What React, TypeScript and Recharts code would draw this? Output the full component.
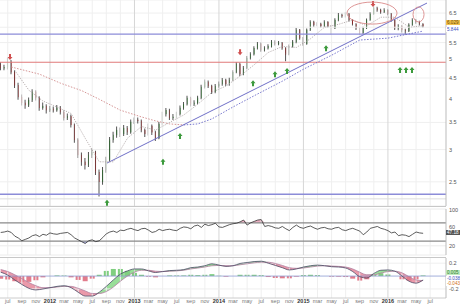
import React from "react";
import {
  ComposedChart,
  Bar,
  Line,
  Area,
  Scatter,
  XAxis,
  YAxis,
  CartesianGrid,
  ReferenceLine,
  ReferenceDot,
  Cell,
} from "recharts";

// time axis: months since jan 2011, candles every half month from t = 5
const candleStart = 5;
const candleStep = 0.5;
const firstOpen = 4.85;
const xDomain = [4.9, 68.25];
const xTicks = [6, 8, 10, 12, 14, 16, 18, 20, 22, 24, 26, 28, 30, 32, 34, 36, 38, 40, 42, 44, 46, 48, 50, 52, 54, 56, 58, 60, 62, 64, 66];
const monthNames = ["jan", "feb", "mar", "apr", "may", "jun", "jul", "aug", "sep", "oct", "nov", "dec"];
// the "6" label sits under the last-price tags
const priceTicks = [2.5, 3, 3.5, 4, 4.5, 5, 5.5, 6.5];

const closes = [
  4.76, 4.78, 4.93, 4.65, 4.32, 4.04, 3.91, 3.86, 3.97, 4.16,
  4.02, 3.8, 3.84, 3.75, 3.78, 3.75, 3.8, 3.71, 3.59, 3.62,
  3.45, 3.17, 2.91, 2.8, 2.75, 2.91, 2.96, 2.64, 2.5, 2.67,
  2.83, 3.17, 3.26, 3.35, 3.28, 3.39, 3.31, 3.51, 3.55, 3.53,
  3.35, 3.28, 3.43, 3.31, 3.2, 3.47, 3.67, 3.75, 3.59, 3.61,
  3.67, 3.8, 3.88, 4.02, 3.88, 3.91, 4.02, 4.28, 4.4, 4.3,
  4.16, 4.3, 4.35, 4.45, 4.35, 4.45, 4.65, 4.87, 4.6, 4.76,
  5.04, 5.15, 5.33, 5.46, 5.27, 5.33, 5.39, 5.52, 5.46, 5.49,
  5.33, 5.15, 5.39, 5.52, 5.91, 5.64, 5.46, 5.91, 6.18, 6.08,
  6.11, 6.04, 6.18, 6.04, 5.97, 6.25, 6.43, 6.39, 6.47, 6.25,
  6.11, 5.97, 5.81, 5.97, 6.25, 6.47, 6.69, 6.61, 6.54, 6.61,
  6.47, 6.25, 5.97, 6.04, 5.91, 5.87, 6.08, 6.25, 6.18, 6.11,
  6.03,
];
const highs = [
  4.92, 4.85, 5.05, 4.98, 4.7, 4.38, 4.1, 3.98, 4.03, 4.22,
  4.2, 4.06, 3.92, 3.88, 3.84, 3.83, 3.86, 3.84, 3.75, 3.68,
  3.66, 3.48, 3.2, 2.95, 2.86, 2.96, 3.02, 2.98, 2.68, 2.72,
  2.88, 3.22, 3.32, 3.42, 3.4, 3.45, 3.43, 3.56, 3.6, 3.6,
  3.56, 3.38, 3.48, 3.46, 3.34, 3.51, 3.72, 3.8, 3.78, 3.67,
  3.72, 3.85, 3.93, 4.07, 4.05, 3.97, 4.07, 4.33, 4.46, 4.44,
  4.33, 4.35, 4.41, 4.5, 4.48, 4.51, 4.7, 4.93, 4.91, 4.82,
  5.1, 5.21, 5.39, 5.52, 5.5, 5.39, 5.45, 5.58, 5.57, 5.55,
  5.52, 5.36, 5.44, 5.58, 5.97, 5.94, 5.68, 5.96, 6.24, 6.22,
  6.17, 6.15, 6.24, 6.21, 6.08, 6.31, 6.5, 6.48, 6.53, 6.5,
  6.28, 6.14, 6.0, 6.02, 6.3, 6.53, 6.75, 6.74, 6.66, 6.68,
  6.64, 6.5, 6.28, 6.1, 6.07, 5.95, 6.14, 6.31, 6.29, 6.22,
  6.14,
];
const lows = [
  4.7, 4.7, 4.72, 4.6, 4.25, 3.98, 3.85, 3.78, 3.82, 3.93,
  3.96, 3.74, 3.76, 3.68, 3.71, 3.7, 3.72, 3.66, 3.54, 3.55,
  3.4, 3.12, 2.86, 2.74, 2.68, 2.72, 2.86, 2.6, 2.3, 2.46,
  2.63, 2.8, 3.12, 3.21, 3.22, 3.24, 3.26, 3.28, 3.47, 3.48,
  3.31, 3.22, 3.25, 3.26, 3.15, 3.18, 3.44, 3.62, 3.55, 3.55,
  3.58, 3.64, 3.76, 3.85, 3.83, 3.84, 3.88, 3.99, 4.24, 4.25,
  4.11, 4.13, 4.26, 4.31, 4.3, 4.31, 4.42, 4.62, 4.55, 4.57,
  4.73, 5.0, 5.11, 5.29, 5.22, 5.23, 5.29, 5.35, 5.41, 5.42,
  5.28, 4.95, 5.12, 5.35, 5.48, 5.59, 5.4, 5.43, 5.87, 6.02,
  6.03, 5.98, 6.0, 5.98, 5.75, 5.94, 6.21, 6.33, 6.34, 6.2,
  6.06, 5.91, 5.74, 5.77, 5.94, 6.22, 6.44, 6.55, 6.48, 6.5,
  6.42, 6.19, 5.91, 5.9, 5.82, 5.75, 5.84, 6.05, 6.12, 6.06,
  5.98,
];

// moving averages, read at a few candle indexes
const slowDownIdx = [3, 11, 17, 23, 28, 34, 40, 44, 48, 52];
const slowDown = [4.79, 4.6, 4.37, 4.19, 3.99, 3.75, 3.61, 3.53, 3.47, 3.45];
const slowUpIdx = [52, 56, 60, 66, 72, 80, 86, 94, 102, 110, 120];
const slowUp = [3.45, 3.47, 3.57, 3.82, 4.07, 4.42, 4.73, 5.12, 5.58, 5.64, 5.87];
const fastIdx = [4, 8, 12, 16, 20, 24, 28, 32, 36, 40, 44, 48, 52, 56, 60, 64, 68, 72, 76, 80, 84, 88, 92, 96, 100, 104, 108, 112, 116, 120];
const fastMa = [4.7, 4.2, 3.95, 3.82, 3.68, 3.2, 2.8, 2.8, 3.2, 3.42, 3.35, 3.5, 3.65, 3.88, 4.15, 4.3, 4.55, 4.85, 5.2, 5.38, 5.35, 5.62, 6.0, 6.1, 6.25, 6.05, 6.35, 6.35, 6.0, 6.05];

const rsi = [
  49, 50, 52, 49, 41, 37, 31, 34, 37, 42,
  44, 40, 45, 43, 48, 46, 45, 47, 48, 49,
  44, 37, 33, 29, 25, 31, 33, 29, 31, 38,
  46, 50, 52, 49, 54, 53, 56, 58, 55, 53,
  57, 58, 54, 49, 51, 56, 53, 55, 56, 54,
  53, 58, 61, 60, 57, 63, 65, 60, 67, 64,
  66, 69, 61, 60, 63, 66, 68, 69, 72, 76,
  65, 70, 73, 76, 77, 62, 64, 62, 59, 58,
  62, 57, 53, 60, 65, 60, 58, 61, 63, 59,
  56, 59, 60, 57, 56, 59, 60, 55, 53, 56,
  58, 55, 52, 44, 50, 58, 60, 62, 58, 56,
  53, 48, 50, 42, 44, 43, 40, 45, 50, 48,
  47.18,
];

// macd panel, monthly from t = 5
const macdStart = 5;
const macd = [
  0.06, 0.015, -0.06, -0.13, -0.19, -0.215, -0.2, -0.18, -0.16, -0.15,
  -0.18, -0.25, -0.31, -0.31, -0.25, -0.16, -0.06, 0.03, 0.08, 0.11,
  0.11, 0.08, 0.055, 0.07, 0.085, 0.09, 0.1, 0.13, 0.14, 0.16,
  0.19, 0.17, 0.15, 0.16, 0.195, 0.21, 0.225, 0.23, 0.2, 0.165,
  0.13, 0.095, 0.11, 0.14, 0.16, 0.17, 0.16, 0.145, 0.14, 0.125,
  0.07, -0.01, -0.03, 0.04, 0.09, 0.095, 0.075, 0.0, -0.08, -0.11,
  -0.06,
];
const signal = [
  0.1, 0.07, 0.02, -0.04, -0.1, -0.15, -0.18, -0.18, -0.17, -0.16,
  -0.16, -0.19, -0.23, -0.27, -0.27, -0.24, -0.17, -0.08, 0.0, 0.06,
  0.09, 0.09, 0.075, 0.07, 0.075, 0.08, 0.09, 0.11, 0.125, 0.14,
  0.16, 0.165, 0.16, 0.16, 0.175, 0.19, 0.205, 0.215, 0.215, 0.195,
  0.165, 0.13, 0.12, 0.125, 0.14, 0.155, 0.16, 0.155, 0.15, 0.14,
  0.11, 0.06, 0.02, 0.02, 0.045, 0.07, 0.075, 0.05, -0.01, -0.06,
  -0.07,
];
const hist = [
  -0.04, -0.055, -0.08, -0.09, -0.09, -0.065, -0.02, 0.0, 0.01, 0.01,
  -0.02, -0.06, -0.08, -0.04, 0.02, 0.08, 0.11, 0.11, 0.08, 0.05,
  0.02, -0.01, -0.02, 0.0, 0.01, 0.01, 0.01, 0.02, 0.015, 0.02,
  0.03, 0.005, -0.01, 0.0, 0.02, 0.02, 0.02, 0.015, -0.015, -0.03,
  -0.035, -0.035, -0.01, 0.015, 0.02, 0.015, 0.0, -0.01, -0.01, -0.015,
  -0.04, -0.07, -0.05, 0.02, 0.045, 0.025, 0.0, -0.05, -0.07, -0.05,
  0.01,
];

const buySignals = [
  { t: 20.1, p: 2.22 }, { t: 28.05, p: 2.8 }, { t: 30.47, p: 3.24 }, { t: 40.84, p: 4.37 },
  { t: 43.96, p: 4.6 }, { t: 45.67, p: 4.68 }, { t: 51.21, p: 5.33 }, { t: 61.72, p: 4.71 },
  { t: 62.57, p: 4.71 }, { t: 63.42, p: 4.71 },
];
const sellSignals = [{ t: 6.32, p: 5.07 }, { t: 39.0, p: 5.21 }, { t: 57.88, p: 6.84 }];
const circles = [
  { t: 57.74, p: 6.5, rx: 25, ry: 11 },
  { t: 64.35, p: 6.45, rx: 5.5, ry: 7.5 },
];
const trend = [{ x: 20.1, y: 2.78 }, { x: 65.55, y: 6.88 }];

const priceData: any[] = closes.map((c, i) => {
  const o = i === 0 ? firstOpen : closes[i - 1];
  return {
    t: candleStart + i * candleStep,
    open: o,
    close: c,
    hl: [lows[i], highs[i]],
    oc: [Math.min(o, c), Math.max(o, c)],
    maDown: null,
    maUp: null,
    maFast: null,
  };
});
slowDownIdx.forEach((k, j) => (priceData[k].maDown = slowDown[j]));
slowUpIdx.forEach((k, j) => (priceData[k].maUp = slowUp[j]));
fastIdx.forEach((k, j) => (priceData[k].maFast = fastMa[j]));

const rsiData = rsi.map((v, i) => ({
  t: candleStart + i * candleStep,
  rsi: v,
  ob: [70, Math.max(70, v)],
  os: [Math.min(30, v), 30],
}));

const macdData = macd.map((m, j) => ({
  t: macdStart + j,
  macd: m,
  signal: signal[j],
  hist: hist[j],
  up: [signal[j], Math.max(signal[j], m)],
  down: [Math.min(signal[j], m), signal[j]],
}));

const GREEN = "#3a9a3a";
const RED = "#cf4545";

function Candle(props: any) {
  const { x, y, width, height, payload } = props;
  const up = payload.close >= payload.open;
  const h = Math.max(Math.abs(height), 1);
  const top = height < 0 ? y + height : y;
  return (
    <rect x={x} y={top} width={width} height={h} fill={up ? GREEN : RED} stroke={up ? "#256325" : "#862a2a"} strokeWidth={0.4} />
  );
}

function UpArrow(props: any) {
  const { cx, cy } = props;
  return (
    <path
      d={`M${cx},${cy - 3} L${cx + 2.5},${cy} L${cx + 1},${cy} L${cx + 1},${cy + 3} L${cx - 1},${cy + 3} L${cx - 1},${cy} L${cx - 2.5},${cy} Z`}
      fill="#3c9a3c"
    />
  );
}

function DownArrow(props: any) {
  const { cx, cy } = props;
  return (
    <path
      d={`M${cx},${cy + 3} L${cx + 2.5},${cy} L${cx + 1},${cy} L${cx + 1},${cy - 3} L${cx - 1},${cy - 3} L${cx - 1},${cy} L${cx - 2.5},${cy} Z`}
      fill="#d05050"
    />
  );
}

function MonthTick(props: any) {
  const { x, y, payload } = props;
  const t = payload.value;
  const m = t % 12;
  const isYear = m === 0;
  return (
    <text x={x} y={y + 5} textAnchor="middle" fontSize={5.5} fontWeight={isYear ? 700 : 400} fill={isYear ? "#333" : "#777"}>
      {isYear ? String(2011 + t / 12) : monthNames[m]}
    </text>
  );
}

const rightTick = { fontSize: 5.5, fill: "#555" };

function vGrid() {
  return xTicks.map((t) => (
    <ReferenceLine key={"g" + t} x={t} stroke={t % 12 === 0 ? "#d6d6d6" : "#efefef"} strokeWidth={1} />
  ));
}

function PriceChart() {
  return (
    <ComposedChart width={460} height={206} data={priceData} margin={{ top: 0, right: 0, bottom: 0, left: 0 }}>
      <XAxis type="number" dataKey="t" domain={xDomain} hide allowDataOverflow />
      <XAxis xAxisId="w" type="number" dataKey="t" domain={xDomain} hide allowDataOverflow />
      <YAxis
        orientation="right"
        width={14}
        scale="log"
        domain={[2.18, 7]}
        ticks={priceTicks}
        allowDataOverflow
        tick={rightTick}
        tickLine={false}
        tickSize={0}
        tickMargin={3}
        axisLine={{ stroke: "#bbb" }}
      />
      <CartesianGrid vertical={false} stroke="#efefef" />
      <ReferenceLine y={6} stroke="#efefef" />
      {vGrid()}
      <ReferenceLine y={2.27} stroke="#dddddd" />
      <ReferenceLine y={5.77} stroke="#8c8cd8" strokeWidth={1.3} />
      <ReferenceLine y={4.92} stroke="#e07a7a" strokeWidth={1.1} />
      <ReferenceLine y={2.33} stroke="#8c8cd8" strokeWidth={1.3} />
      <ReferenceLine segment={trend} stroke="#7070c8" strokeWidth={1} ifOverflow="visible" />
      <Line dataKey="maDown" stroke="#d08a8a" strokeWidth={0.9} strokeDasharray="1.5 1.5" dot={false} connectNulls isAnimationActive={false} />
      <Line dataKey="maUp" stroke="#6a6ac8" strokeWidth={0.9} strokeDasharray="1.5 1.5" dot={false} connectNulls isAnimationActive={false} />
      <Line dataKey="maFast" stroke="#a9a0a0" strokeWidth={0.8} strokeDasharray="1.2 1.2" dot={false} connectNulls isAnimationActive={false} />
      <Bar xAxisId="w" dataKey="hl" barSize={1} fill="#555" isAnimationActive={false} />
      <Bar dataKey="oc" barSize={2.8} shape={Candle} isAnimationActive={false} />
      <Scatter data={buySignals} dataKey="p" shape={UpArrow} isAnimationActive={false} />
      <Scatter data={sellSignals} dataKey="p" shape={DownArrow} isAnimationActive={false} />
      {circles.map((c, k) => (
        <ReferenceDot
          key={"c" + k}
          x={c.t}
          y={c.p}
          r={c.rx}
          ifOverflow="visible"
          shape={(p: any) => <ellipse cx={p.cx} cy={p.cy} rx={c.rx} ry={c.ry} fill="none" stroke="#d98a8a" strokeWidth={0.9} />}
        />
      ))}
    </ComposedChart>
  );
}

function RsiChart() {
  return (
    <ComposedChart width={460} height={50} data={rsiData} margin={{ top: 2, right: 0, bottom: 2, left: 0 }}>
      <XAxis type="number" dataKey="t" domain={xDomain} hide allowDataOverflow />
      <YAxis
        orientation="right"
        width={14}
        domain={[0, 100]}
        ticks={[0, 20, 40, 60, 80, 100]}
        tick={rightTick}
        tickLine={false}
        tickSize={0}
        tickMargin={3}
        axisLine={{ stroke: "#bbb" }}
      />
      <CartesianGrid vertical={false} stroke="#ececec" />
      {vGrid()}
      <Area dataKey="ob" stroke="none" fill="#e39ab0" fillOpacity={0.8} isAnimationActive={false} />
      <Area dataKey="os" stroke="none" fill="#9aa0dc" fillOpacity={0.8} isAnimationActive={false} />
      <ReferenceLine y={70} stroke="#8a8a8a" strokeWidth={1.2} />
      <ReferenceLine y={30} stroke="#8a8a8a" strokeWidth={1.2} />
      <Line dataKey="rsi" stroke="#333" strokeWidth={0.8} dot={false} isAnimationActive={false} />
    </ComposedChart>
  );
}

function MacdChart() {
  return (
    <ComposedChart width={460} height={50} data={macdData} margin={{ top: 0, right: 0, bottom: 0, left: 0 }}>
      <XAxis
        type="number"
        dataKey="t"
        domain={xDomain}
        allowDataOverflow
        ticks={xTicks}
        interval={0}
        height={10}
        tick={<MonthTick />}
        tickLine={false}
        tickSize={0}
        tickMargin={0}
        axisLine={{ stroke: "#ccc" }}
      />
      <YAxis
        orientation="right"
        width={14}
        domain={[-0.34, 0.28]}
        ticks={[-0.2, 0.2]}
        tick={rightTick}
        tickLine={false}
        tickSize={0}
        tickMargin={3}
        axisLine={{ stroke: "#bbb" }}
      />
      {vGrid()}
      <ReferenceLine y={0.2} stroke="#efefef" />
      <ReferenceLine y={-0.2} stroke="#efefef" />
      <Bar dataKey="hist" barSize={5} isAnimationActive={false}>
        {macdData.map((d, k) => (
          <Cell key={k} fill={d.hist >= 0 ? "#7fcf7f" : "#e27c8c"} />
        ))}
      </Bar>
      <ReferenceLine y={0} stroke="#8a9ad0" strokeWidth={0.8} />
      <Area type="monotone" dataKey="up" stroke="none" fill="#86d886" fillOpacity={0.85} isAnimationActive={false} />
      <Area type="monotone" dataKey="down" stroke="none" fill="#e6879a" fillOpacity={0.85} isAnimationActive={false} />
      <Line type="monotone" dataKey="signal" stroke="#b07fa0" strokeWidth={0.8} dot={false} isAnimationActive={false} />
      <Line type="monotone" dataKey="macd" stroke="#4a4a66" strokeWidth={0.8} dot={false} isAnimationActive={false} />
    </ComposedChart>
  );
}

function Tag({ top, bg, color, text }: { top: number; bg: string; color: string; text: string }) {
  return (
    <div
      style={{
        position: "absolute",
        left: 446,
        top,
        fontSize: 4.6,
        lineHeight: "5px",
        height: 5,
        padding: "0 1px",
        background: bg,
        color,
        whiteSpace: "nowrap",
        overflow: "hidden",
      }}
    >
      {text}
    </div>
  );
}

export default function App() {
  return (
    <div
      style={{
        position: "absolute",
        left: 0,
        top: 0,
        width: 460,
        height: 308,
        background: "#fff",
        overflow: "hidden",
        fontFamily: "'Liberation Sans', Arial, sans-serif",
      }}
    >
      <div style={{ position: "absolute", left: 0, top: 0 }}>
        <PriceChart />
      </div>
      <div style={{ position: "absolute", left: 0, top: 206, width: 446, height: 1, background: "#c8c8c8" }} />
      <div style={{ position: "absolute", left: 0, top: 207 }}>
        <RsiChart />
      </div>
      <div style={{ position: "absolute", left: 0, top: 257, width: 446, height: 1, background: "#c8c8c8" }} />
      <div style={{ position: "absolute", left: 0, top: 258 }}>
        <MacdChart />
      </div>
      <Tag top={20} bg="#f2c14e" color="#6a4a00" text="6.029" />
      <Tag top={27} bg="#ffffff" color="#3a50c0" text="5.844" />
      <Tag top={230} bg="#555" color="#fff" text="47.18" />
      <Tag top={270} bg="#bfeabf" color="#2c7a2c" text="0.005" />
      <Tag top={275.5} bg="#ffffff" color="#3a50c0" text="-0.038" />
      <Tag top={281} bg="#ffffff" color="#d07020" text="-0.043" />
    </div>
  );
}
